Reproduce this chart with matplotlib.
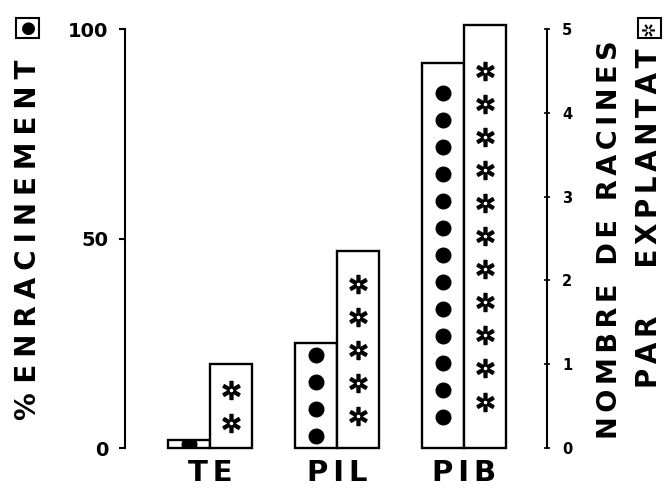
import numpy as np
import matplotlib.pyplot as plt

# données
categories = ['TE', 'PIL', 'PIB']
enracinement = [2, 25, 92]        # % enracinement (axe gauche)
racines = [1.0, 2.35, 5.05]       # nombre de racines par explantat (axe droit)
n_points = [1, 4, 13]             # nombre de symboles ● dans chaque barre
n_etoiles = [2, 5, 11]            # nombre de symboles ✲ dans chaque barre
yticks_gauche = [0, 50, 100]
yticks_droite = [0, 1, 2, 3, 4, 5]


def espace(txt, sp='\u2005'):
    # lettrage espacé comme sur l'original
    return sp.join(txt)


plt.rcParams['font.family'] = ['DejaVu Sans']

fig = plt.figure(figsize=(6.66, 4.92), dpi=100)
ax = fig.add_axes([0.1877, 0.0894, 0.6336, 0.8516])
ax2 = ax.twinx()
ax2.patch.set_visible(False)

x = np.arange(len(categories))
w = 0.33
ax.set_xlim(-0.669, 2.654)
ax.set_ylim(0, 100)
ax2.set_ylim(0, 5)

barres_g = ax.bar(x - w / 2, enracinement, w, facecolor='white',
                  edgecolor='black', linewidth=1.7, zorder=2, clip_on=False)
barres_d = ax2.bar(x + w / 2, racines, w, facecolor='white',
                   edgecolor='black', linewidth=1.7, zorder=2, clip_on=False)

# symboles dans les barres, centrés verticalement
pas_points = 6.44    # en % d'enracinement
pas_etoiles = 0.394  # en nombre de racines
for i, b in enumerate(barres_g):
    n = n_points[i]
    ys = enracinement[i] / 2 + (np.arange(n) - (n - 1) / 2) * pas_points
    lignes = ax.plot([x[i] - w / 2] * n, ys, 'o', color='black', ms=10.5, zorder=3)
    lignes[0].set_clip_path(b)

for i, b in enumerate(barres_d):
    n = n_etoiles[i]
    ys = racines[i] / 2 + (np.arange(n) - (n - 1) / 2) * pas_etoiles
    ax2.plot([x[i] + w / 2] * n, ys, linestyle='none', marker='$✲$',
             color='black', ms=13, zorder=3)

# axes
for s in ['top', 'bottom', 'right']:
    ax.spines[s].set_visible(False)
for s in ['top', 'bottom', 'left']:
    ax2.spines[s].set_visible(False)
ax.spines['left'].set_linewidth(1.5)
ax2.spines['right'].set_linewidth(1.5)

ax.set_yticks(yticks_gauche)
ax.set_yticklabels([str(v) for v in yticks_gauche], fontsize=14, fontweight='bold')
ax.set_yticks([0, 100], minor=True)
ax.tick_params(axis='y', which='major', direction='out', length=4, width=1.5, pad=8)
ax.tick_params(axis='y', which='minor', direction='in', length=7, width=1.5)

ax2.set_yticks(yticks_droite)
ax2.set_yticklabels([str(v) for v in yticks_droite], fontsize=10.5, fontweight='bold')
ax2.set_yticks([0, 5], minor=True)
ax2.tick_params(axis='y', which='major', direction='inout', length=4, width=1.2, pad=9)
ax2.tick_params(axis='y', which='minor', direction='in', length=8, width=1.5)

ax.set_xticks(x)
ax.set_xticklabels([espace(c, '\u2006') for c in categories], fontsize=21, fontweight='bold')
ax.tick_params(axis='x', length=0, pad=8)

# titres des axes
fig.text(0.042, 0.512, '% ' + espace('ENRACINEMENT'), rotation=90,
         ha='center', va='center', fontsize=20, fontweight='bold')
fig.text(0.042, 0.943, '●', rotation=90, ha='center', va='center', fontsize=12,
         bbox=dict(boxstyle='square,pad=0.15', fc='white', ec='black', lw=1.5))

fig.text(0.916, 0.512,
         espace('NOMBRE', '\u2006') + '  ' + espace('DE', '\u2006') + '  ' + espace('RACINES', '\u2006'),
         rotation=90, ha='center', va='center', fontsize=19.5, fontweight='bold')
fig.text(0.975, 0.557, espace('PAR', '\u2006') + '     ' + espace('EXPLANTAT', '\u2006'),
         rotation=90, ha='center', va='center', fontsize=20, fontweight='bold')
fig.text(0.975, 0.943, '✲', rotation=90, ha='center', va='center', fontsize=13,
         bbox=dict(boxstyle='square,pad=0.12', fc='white', ec='black', lw=1.5))

fig.savefig('out.png', dpi=100)
